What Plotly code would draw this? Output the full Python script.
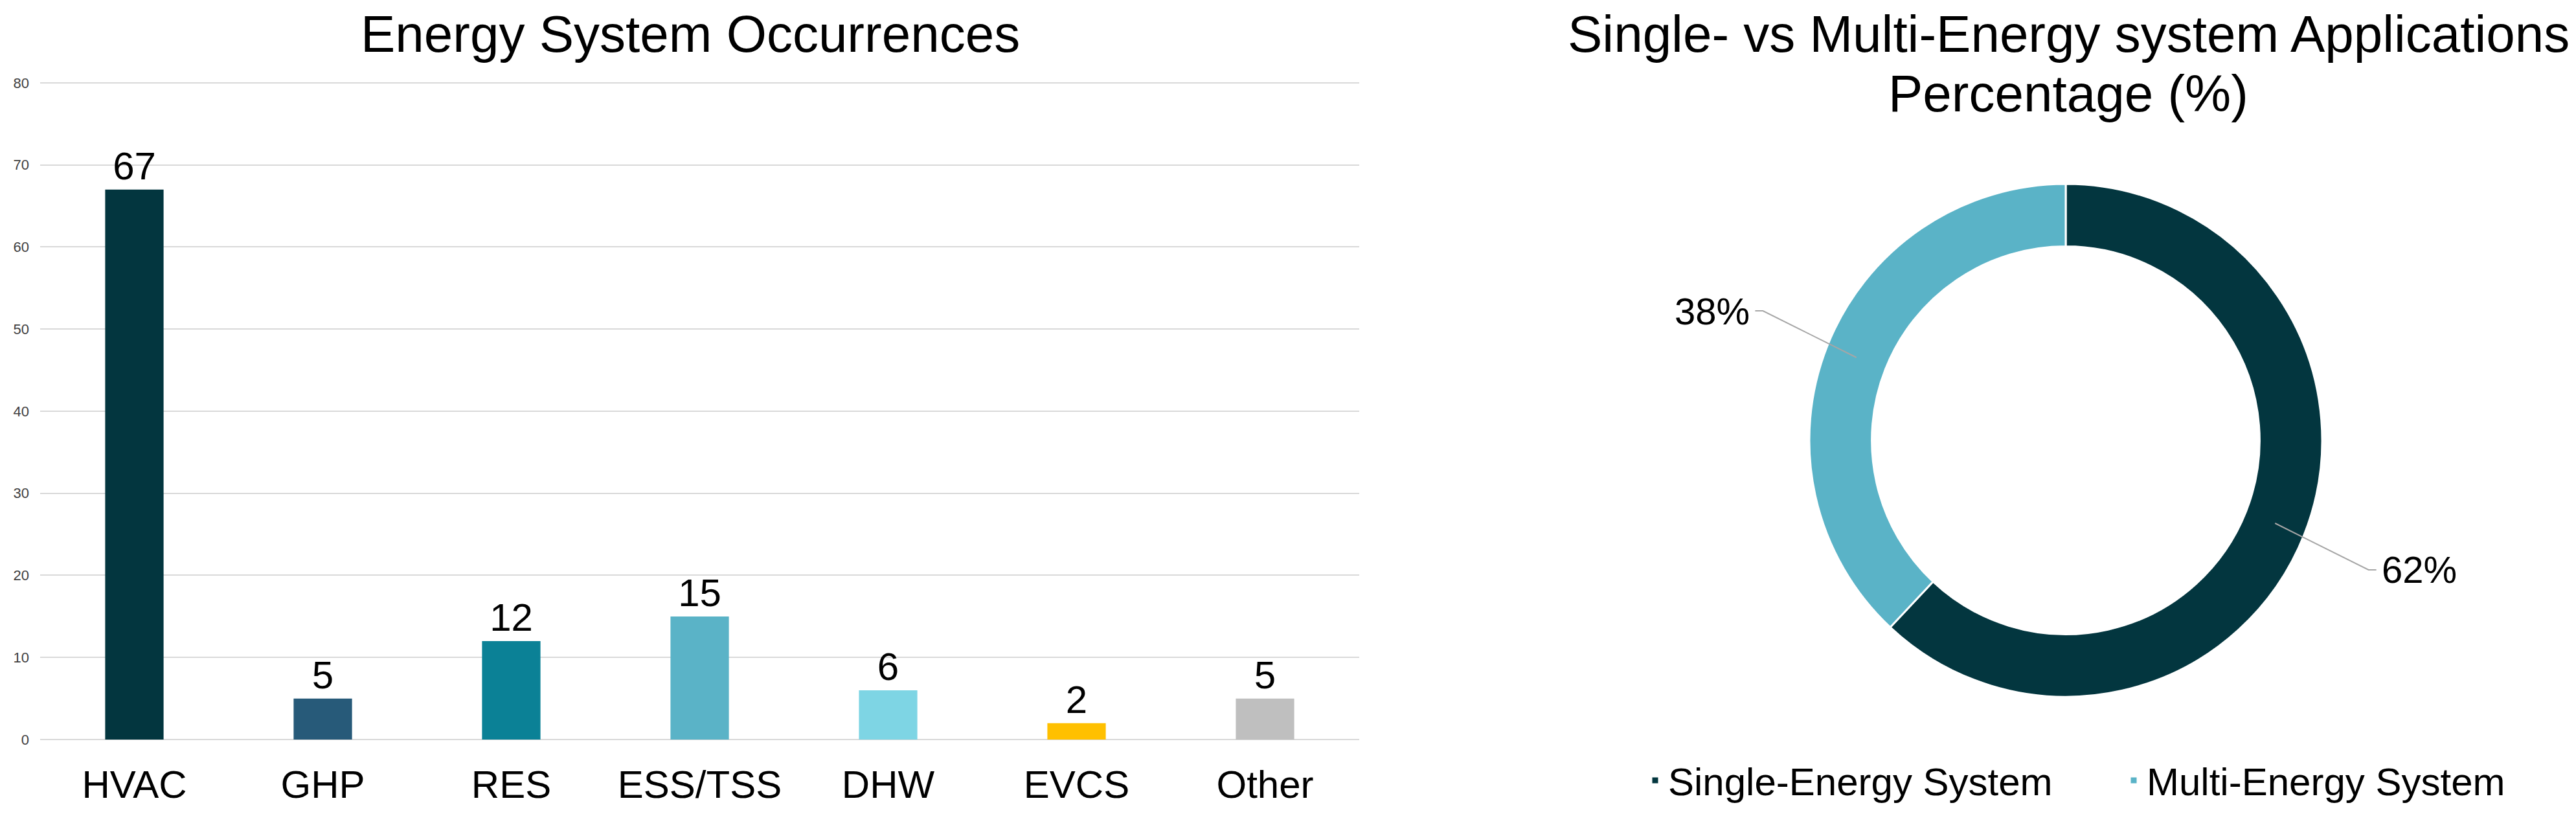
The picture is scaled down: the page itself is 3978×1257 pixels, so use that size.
import math
import plotly.graph_objects as go

# ---------------- data ----------------
categories = ["HVAC", "GHP", "RES", "ESS/TSS", "DHW", "EVCS", "Other"]
occurrences = [67, 5, 12, 15, 6, 2, 5]
bar_colors = ["#03363f", "#275a79", "#0b8196", "#5ab3c7", "#7ed5e4", "#ffc000", "#bfbfbf"]
y_ticks = [0, 10, 20, 30, 40, 50, 60, 70, 80]

pie_labels = ["Single-Energy System", "Multi-Energy System"]
pie_values = [62, 38]
pie_colors = ["#03363f", "#5ab3c7"]

bar_title = "Energy System Occurrences"
pie_title_lines = ["Single- vs Multi-Energy system Applications", "Percentage (%)"]

# ---------------- layout constants ----------------
W, H = 3978, 1257          # window size
OFF = 8                    # default page body margin
FIG_W, FIG_H = W - 2 * OFF, H - 2 * OFF
FONT = "Liberation Sans, Arial, sans-serif"
PLOT_L, PLOT_R, PLOT_T, PLOT_B = 62, 2099, 128, 1142
Y_MIN, Y_MAX = 0, 80
PAD_U = 0.15  # small range pad so the edge gridlines are drawn
CX, CY, R = 3190, 680, 396
HOLE = 0.756


def px(x):
    return (x - OFF) / FIG_W


def py(y):
    return 1 - (y - OFF) / FIG_H


unit_px = (PLOT_B - PLOT_T) / (Y_MAX - Y_MIN)

fig = go.Figure()

fig.add_trace(go.Bar(
    x=categories, y=occurrences,
    marker=dict(color=bar_colors, line=dict(width=0)),
    text=occurrences, textposition="outside",
    textfont=dict(size=60, color="black", family=FONT),
    cliponaxis=False, showlegend=False,
    xaxis="x", yaxis="y",
))

fig.add_trace(go.Pie(
    labels=pie_labels, values=pie_values,
    hole=HOLE, sort=False, direction="clockwise", rotation=0,
    marker=dict(colors=pie_colors, line=dict(color="white", width=3)),
    textinfo="none", hoverinfo="label+percent",
    domain=dict(x=[px(CX - R), px(CX + R)], y=[py(CY + R), py(CY - R)]),
    showlegend=True,
))

annotations = [
    dict(text=bar_title, x=px(1066), y=py(52), xref="paper", yref="paper",
         xanchor="center", yanchor="middle", showarrow=False,
         font=dict(size=80, color="black", family=FONT)),
]
for i, line in enumerate(pie_title_lines):
    annotations.append(dict(text=line, x=px(CX + 4), y=py(52 + 92 * i), xref="paper", yref="paper",
                            xanchor="center", yanchor="middle", showarrow=False,
                            font=dict(size=80, color="black", family=FONT)))

# pie outside labels with leader lines, derived from the values
shapes = []
total = sum(pie_values)
cum = 0
r_mid = R * (1 + HOLE) / 2
r_elbow = R * 1.27
for v in pie_values:
    frac = (cum + v / 2) / total
    cum += v
    a = 2 * math.pi * frac
    dx, dy = math.sin(a), -math.cos(a)
    x1, y1 = CX + r_mid * dx, CY + r_mid * dy
    x2, y2 = CX + r_elbow * dx, CY + r_elbow * dy * 1.08
    side = 1 if dx >= 0 else -1
    x3 = x2 + 12 * side
    shapes.append(dict(type="path", xref="paper", yref="paper",
                       path=f"M {px(x1)},{py(y1)} L {px(x2)},{py(y2)} L {px(x3)},{py(y2)}",
                       line=dict(color="#a6a6a6", width=2)))
    pct = round(100 * v / total)
    annotations.append(dict(text=f"{pct}%", x=px(x3 + 6 * side), y=py(y2), xref="paper", yref="paper",
                            xanchor="left" if side > 0 else "right", yanchor="middle",
                            showarrow=False, font=dict(size=58, color="black", family=FONT)))

fig.update_layout(
    width=FIG_W, height=FIG_H,
    margin=dict(l=0, r=0, t=0, b=0, autoexpand=False),
    paper_bgcolor="white", plot_bgcolor="white",
    font=dict(family=FONT, color="black"),
    bargap=0.69,
    xaxis=dict(domain=[px(PLOT_L), px(PLOT_R)], showgrid=False, showline=False, zeroline=False,
               ticks="", tickfont=dict(size=60, color="black", family=FONT),
               ticklabelstandoff=27, fixedrange=True),
    yaxis=dict(domain=[py(PLOT_B + PAD_U * unit_px), py(PLOT_T - PAD_U * unit_px)],
               range=[Y_MIN - PAD_U, Y_MAX + PAD_U], tickvals=y_ticks,
               showgrid=True, gridcolor="#d9d9d9", gridwidth=2, zeroline=False, showline=False,
               ticks="", tickfont=dict(size=22, color="#404040", family=FONT),
               ticklabelstandoff=16, fixedrange=True),
    legend=dict(orientation="h", x=px(2536), xanchor="left", y=py(1205), yanchor="middle",
                entrywidth=694, entrywidthmode="pixels",
                font=dict(size=60, color="black", family=FONT), bgcolor="rgba(0,0,0,0)",
                itemclick=False, itemdoubleclick=False),
    annotations=annotations,
    shapes=shapes,
)

fig.write_html("out.html")
